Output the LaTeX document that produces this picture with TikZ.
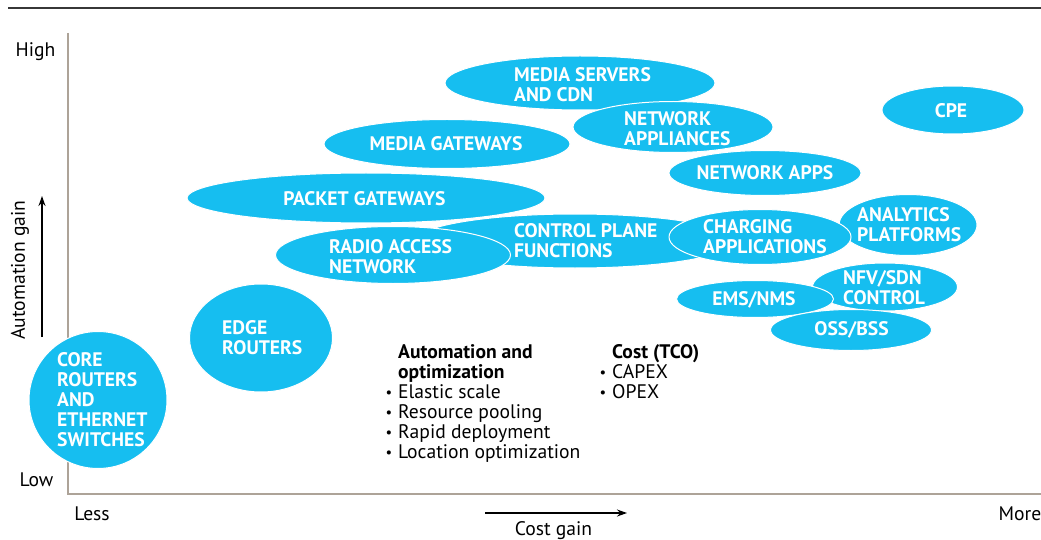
\documentclass[tikz,border=0pt]{standalone}
\usepackage{fontspec}
\setmainfont{PT Sans}
\usetikzlibrary{shapes.geometric,arrows.meta}
\definecolor{blob}{RGB}{22,190,240}
\definecolor{axisc}{RGB}{173,163,152}
\definecolor{rulec}{RGB}{55,55,55}
\newcommand{\bul}{\llap{\raisebox{1pt}{\scalebox{0.75}{\textbullet}}\hspace{6pt}}}
\begin{document}
\begin{tikzpicture}[x=1pt,y=-1pt,
  bubble/.style={ellipse, fill=blob, draw=white, line width=1pt, inner sep=0pt},
  lbl/.style={text=white, font=\fontsize{19.6}{20}\selectfont\bfseries, align=left, inner sep=0pt},
  txt/.style={font=\fontsize{19.6}{20}\selectfont, inner sep=0pt, text=black, align=left},
  gainarrow/.style={-{Stealth[length=10pt,width=7pt]}, line width=1.4pt, black}]
\useasboundingbox (0,0) rectangle (1041,540);

% top rule
\coordinate (r1) at (8,8.5);
\coordinate (r2) at (1041,8.5);
\draw[rulec, line width=2pt] (r1) -- (r2);

% axes
\coordinate (ytop) at (68,33);
\coordinate (orig) at (68,494);
\coordinate (xend) at (1041,494);
\draw[axisc, line width=2.6pt] (ytop) -- (orig) -- (xend);

\node[txt, anchor=base] (high) at (35.5,57) {High};
\node[txt, anchor=base] (low) at (36.5,486) {Low};
\node[txt, anchor=base] (less) at (92,520) {Less};
\node[txt, anchor=base] (more) at (1020,520) {More};
\node[txt, anchor=base] (cgain) at (553.5,535) {Cost gain};
\node[txt, rotate=90] (again) at (20,270) {Automation gain};

\coordinate (ca1) at (485,513);
\coordinate (ca2) at (627,513);
\draw[gainarrow] (ca1) -- (ca2);
\coordinate (aa1) at (42,337);
\coordinate (aa2) at (42,196);
\draw[gainarrow] (aa1) -- (aa2);

% bubbles, back to front
\node[bubble, minimum width=270pt, minimum height=54pt] (ms) at (580,83) {};
\node[lbl, anchor=west] (msl) at (514,84.5) {MEDIA SERVERS\\AND CDN};

\node[bubble, minimum width=200pt, minimum height=51pt] (na) at (673,127) {};
\node[lbl, anchor=west] (nal) at (624,128.5) {NETWORK\\APPLIANCES};

\node[bubble, minimum width=246pt, minimum height=49pt] (mg) at (447,144) {};
\node[lbl] (mgl) at (446,144) {MEDIA GATEWAYS};

\node[bubble, minimum width=192pt, minimum height=45pt] (nap) at (765,173) {};
\node[lbl] (napl) at (765,173) {NETWORK APPS};

\node[bubble, minimum width=142pt, minimum height=48pt] (cpe) at (953,110) {};
\node[lbl] (cpel) at (951,111) {CPE};

\node[bubble, minimum width=358pt, minimum height=50pt] (pg) at (366,198) {};
\node[lbl] (pgl) at (364.5,198.5) {PACKET GATEWAYS};

\node[bubble, minimum width=320pt, minimum height=54pt] (cp) at (575,241) {};
\node[lbl, anchor=west] (cpl) at (514,241) {CONTROL PLANE\\FUNCTIONS};

\node[bubble, minimum width=235pt, minimum height=57pt] (ran) at (393,255) {};
\node[lbl, anchor=west] (ranl) at (329,256.5) {RADIO ACCESS\\NETWORK};

\node[bubble, minimum width=138pt, minimum height=61pt] (an) at (908,225) {};
\node[lbl, anchor=west] (anl) at (857,225) {ANALYTICS\\PLATFORMS};

\node[bubble, minimum width=182pt, minimum height=55pt] (ch) at (760,237) {};
\node[lbl, anchor=west] (chl) at (703,236.5) {CHARGING\\APPLICATIONS};

\node[bubble, minimum width=145pt, minimum height=48pt] (nfv) at (885,287) {};
\node[lbl, anchor=west] (nfvl) at (843,288) {NFV/SDN\\CONTROL};

\node[bubble, minimum width=157pt, minimum height=37pt] (ems) at (755,299) {};
\node[lbl] (emsl) at (754,299.5) {EMS/NMS};

\node[bubble, minimum width=161pt, minimum height=41pt] (oss) at (851,330) {};
\node[lbl] (ossl) at (851.5,330) {OSS/BSS};

\node[bubble, minimum width=143pt, minimum height=108pt] (er) at (261,338) {};
\node[lbl, anchor=west] (erl) at (222,338) {EDGE\\ROUTERS};

\node[bubble, minimum width=138pt, minimum height=137pt] (core) at (98,400) {};
\node[lbl, anchor=west] (corel) at (57,399.5) {CORE\\ROUTERS\\AND\\ETHERNET\\SWITCHES};

% legend text (anchored at the baseline of the last line)
\node[txt, anchor=base west] (auto) at (398,458.5)
  {\textbf{Automation and}\\\textbf{optimization}\\
   \bul Elastic scale\\
   \bul Resource pooling\\
   \bul Rapid deployment\\
   \bul Location optimization};
\node[txt, anchor=base west] (cost) at (612,398.5)
  {\textbf{Cost (TCO)}\\
   \bul CAPEX\\
   \bul OPEX};
\end{tikzpicture}
\end{document}
